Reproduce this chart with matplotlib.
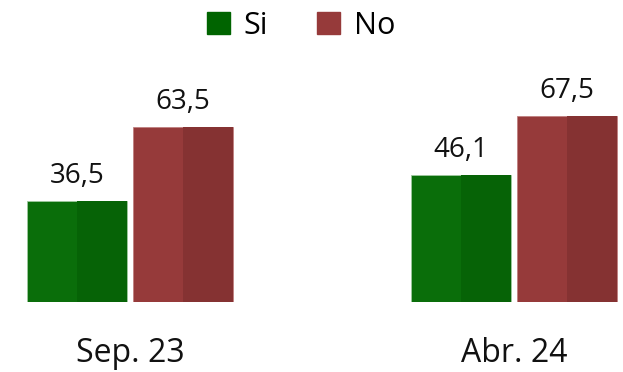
import matplotlib
matplotlib.use("Agg")
import matplotlib.pyplot as plt
from matplotlib.patches import Patch

categories = ["Sep. 23", "Abr. 24"]
series_names = ["Si", "No"]
si_values = [36.5, 46.1]
no_values = [63.5, 67.5]
value_labels_si = ["36,5", "46,1"]
value_labels_no = ["63,5", "67,5"]

plt.rcParams['font.family'] = ['Open Sans', 'DejaVu Sans']

W, H = 623, 372
fig = plt.figure(figsize=(W / 100, H / 100), dpi=100)
bottom = (H - 302) / H
ax = fig.add_axes([0, bottom, 1, 1 - bottom])
ax.set_xlim(-130 / 384, (W - 130) / 384)
ax.set_ylim(0, 302 / 2.76)

bw = 100 / 384
off = 53 / 384
series = [
    (si_values, value_labels_si, "#0a6e0a", "#066306", -off),
    (no_values, value_labels_no, "#963a3a", "#853232", off),
]
x = list(range(len(categories)))
for vals, labs, c_left, c_right, o in series:
    xs = [i + o for i in x]
    ax.bar(xs, vals, width=bw, color=c_left, edgecolor="#9fc99f" if c_left == "#0a6e0a" else "#c08080", linewidth=0.6)
    ax.bar([xx + bw / 4 for xx in xs], vals, width=bw / 2, color=c_right, linewidth=0)
    for xx, v, lab in zip(xs, vals, labs):
        ax.annotate(lab, (xx, v), xytext=(0, 8), textcoords="offset points",
                    ha="center", va="bottom", fontsize=20, color="#111111")

ax.set_xticks(x)
ax.set_xticklabels(categories, fontsize=23, color="#111111")
ax.tick_params(axis="x", length=0, pad=25)
ax.set_yticks([])
for s in ax.spines.values():
    s.set_visible(False)

handles = [Patch(color="#006400"), Patch(color="#963a3a")]
fig.legend(handles, series_names, loc="upper center", bbox_to_anchor=(0.483, 1.045),
           ncol=2, frameon=False, fontsize=22, handlelength=0.75, handleheight=0.75,
           handletextpad=0.45, columnspacing=1.6)

fig.savefig("out.png", dpi=100)
